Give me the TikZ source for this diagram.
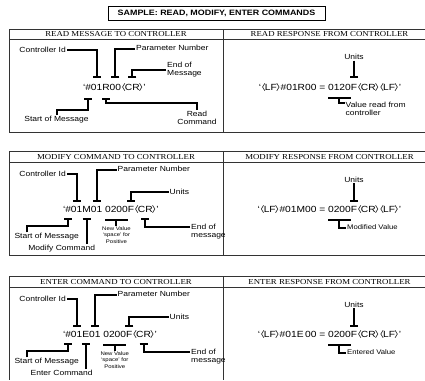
\documentclass[tikz,border=0pt]{standalone}
\usepackage{fontspec}
\setmainfont[FakeStretch=1.15]{Liberation Serif}
\setsansfont[FakeStretch=1.15]{Liberation Sans}
\usepackage{graphicx}
\usepackage{tikz}
\usetikzlibrary{arrows.meta,positioning}
\newcommand{\ltag}{\kern-0.3pt\raisebox{1.1pt}{\scalebox{1.25}[0.88]{\boldmath$\langle$}}\kern-1.1pt}
\newcommand{\rtag}{\kern-1.1pt\raisebox{1.1pt}{\scalebox{1.25}[0.88]{\boldmath$\rangle$}}\kern-0.3pt}

\begin{document}
\begin{tikzpicture}[x=1pt, y=-1pt,
    tbl/.style={draw=black!80, line width=0.9pt},
    head/.style={inner sep=0pt, font=\fontsize{7.65}{9}\selectfont},
    lbl/.style={inner sep=1pt, align=left, font=\sffamily\fontsize{7.4}{8.3}\selectfont},
    lbls/.style={lbl, font=\sffamily\fontsize{6.7}{7.4}\selectfont},
    tinylbl/.style={inner sep=0.5pt, align=center, font=\sffamily\fontsize{5.2}{6.6}\selectfont},
    chr/.style={inner sep=0pt, outer sep=0pt, text height=6.4pt, text depth=0pt, font=\sffamily\fontsize{8.9}{10}\selectfont},
    brk/.style={line width=2pt},
    tee/.style={brk, -{Bar[width=8pt]}}]
    \useasboundingbox (0,0) rectangle (425,380);

    \node [draw, line width=1pt, minimum width=217pt, minimum height=13.5pt, inner sep=0pt, font=\sffamily\bfseries\fontsize{7.75}{9}\selectfont] (title) at (216.5,13.5) {SAMPLE: READ, MODIFY, ENTER COMMANDS};

    \draw [tbl] (425,29) -- (9,29) -- (9,132.5) -- (425,132.5);
    \draw [tbl] (9,39.5) -- (425,39.5);
    \draw [tbl] (223,29) -- (223,132.5);
    \draw [tbl] (425,151.5) -- (9,151.5) -- (9,255) -- (425,255);
    \draw [tbl] (9,162) -- (425,162);
    \draw [tbl] (223,151.5) -- (223,255);
    \draw [tbl] (425,276.5) -- (9,276.5) -- (9,380);
    \draw [tbl] (9,287) -- (425,287);
    \draw [tbl] (223,276.5) -- (223,380);

    \node [head] (hreadL) at (116,34.5) {READ MESSAGE TO CONTROLLER};
    \node [head] (hreadR) at (329.5,34.5) {READ RESPONSE FROM CONTROLLER};
    \node [head] (hmodL) at (116,157) {MODIFY COMMAND TO CONTROLLER};
    \node [head] (hmodR) at (329.5,157) {MODIFY RESPONSE FROM CONTROLLER};
    \node [head] (hentL) at (116,282) {ENTER COMMAND TO CONTROLLER};
    \node [head] (hentR) at (329.5,282) {ENTER RESPONSE FROM CONTROLLER};

    % read message
    \node [chr, anchor=base west] (rq1) at (83,90.9) {`};
    \node [chr, base right=0pt of rq1] (rhash) {\#};
    \node [chr, base right=0pt of rhash] (rcid) {01};
    \node [chr, base right=0pt of rcid] (rcmd) {R};
    \node [chr, base right=0pt of rcmd] (rpar) {00};
    \node [chr, base right=0pt of rpar] (rcr) {\ltag CR\rtag};
    \node [chr, base right=0pt of rcr] (rq2) {'};

    \node [lbl, anchor=east] (lctrlR) at (67,49.5) {Controller Id};
    \node [lbl, anchor=west] (lparR) at (135,47.5) {Parameter Number};
    \node [lbl, anchor=west] (lendR) at (166,69.5) {End of\\Message};
    \node [lbl, anchor=north] (lstartR) at (56.5,115) {Start of Message};
    \node [lbl, anchor=north, align=center] (lreadR) at (197,109.5) {Read\\Command};

    \draw [tee] (lctrlR.east) -| ([yshift=7pt]rcid.north);
    \draw [tee] ([yshift=-1.5pt]lparR.west) -| ([yshift=7pt]rpar.north);
    \draw [tee] (lendR.west) -| ([yshift=7pt]rcr.north);
    \draw [tee] (lstartR.north) -- ++(0,-5) -| ([yshift=-7pt]rhash.south);
    \draw [tee] (lreadR.north) -- ++(0,-7) -| ([yshift=-7pt]rcmd.south);

    % read response
    \node [chr, anchor=base] (rrunit) at (354,90.9) {F};
    \node [chr, base left=0pt of rrunit] (rrval) {0120};
    \node [chr, base left=2.8pt of rrval] (rrpre) {`\ltag LF\rtag\#01R00\ =};
    \node [chr, base right=0pt of rrunit] (rrpost) {\ltag CR\rtag\ltag LF\rtag'};

    \node [lbl, above=24pt of rrunit] (lunitRR) {Units};
    \node [lbl, anchor=north west] (lvalRR) at (344.5,100.5) {Value read from\\controller};

    \draw [tee] (lunitRR.south) -- ([yshift=7pt]rrunit.north);
    \draw [brk] ([yshift=-7pt]rrval.south west) -- ([yshift=-7pt]rrval.south east);
    \draw [brk] ([yshift=-7pt]rrval.south) |- ([yshift=-2.5pt]lvalRR.north west);

    % modify command
    \node [chr, anchor=base west] (mq1) at (63,212.7) {`};
    \node [chr, base right=0pt of mq1] (mhash) {\#};
    \node [chr, base right=0pt of mhash] (mcid) {01};
    \node [chr, base right=0pt of mcid] (mcmd) {M};
    \node [chr, base right=0pt of mcmd] (mpar) {01};
    \node [chr, base right=2.8pt of mpar] (mval) {0200};
    \node [chr, base right=0pt of mval] (munit) {F};
    \node [chr, base right=0pt of munit] (mcr) {\ltag CR\rtag};
    \node [chr, base right=0pt of mcr] (mq2) {'};

    \node [lbl, anchor=east] (lctrlM) at (67,173.5) {Controller Id};
    \node [lbl, anchor=west] (lparM) at (116.5,168.5) {Parameter Number};
    \node [lbl, anchor=west] (lunitM) at (168.5,191.7) {Units};
    \node [lbl] (lstartM) at (46.7,237) {Start of Message};
    \node [lbl, anchor=north] (lmodM) at (61.7,244) {Modify Command};
    \node [tinylbl, below=13pt of mval] (lnewM) {New Value\\`space' for\\Positive};
    \node [lbl, anchor=north west] (lendM) at (190,222.5) {End of\\message};

    \draw [tee] (lctrlM.east) -| ([yshift=4.6pt]mcid.north);
    \draw [tee] ([yshift=-1pt]lparM.west) -| ([yshift=4.6pt]mpar.north);
    \draw [tee] (lunitM.west) -| ([yshift=4.6pt]munit.north);
    \draw [tee] ([xshift=-19.4pt]lstartM.north) -- ++(0,-6) -| ([yshift=-4.8pt]mhash.south);
    \draw [tee] (lmodM.north -| mcmd.south) -- ([yshift=-4.8pt]mcmd.south);
    \draw [brk] ([yshift=-7.3pt]mval.south west) -- ([yshift=-7.3pt]mval.south east);
    \draw [brk] ([yshift=-7.3pt]mval.south) -- (lnewM.north);
    \draw [tee] ([yshift=-4.5pt]lendM.north west) -| ([yshift=-4.8pt]mcr.south);

    % modify response
    \node [chr, anchor=base] (mrunit) at (354,212.7) {F};
    \node [chr, base left=0pt of mrunit] (mrval) {0200};
    \node [chr, base left=2.8pt of mrval] (mrpre) {`\ltag LF\rtag\#01M00\ =};
    \node [chr, base right=0pt of mrunit] (mrpost) {\ltag CR\rtag\ltag LF\rtag'};

    \node [lbl, above=23pt of mrunit] (lunitMR) {Units};
    \node [lbls, anchor=west] (lmodvMR) at (346,227.5) {Modified Value};

    \draw [tee] (lunitMR.south) -- ([yshift=4.6pt]mrunit.north);
    \draw [brk] ([yshift=-7.3pt]mrval.south west) -- ([yshift=-7.3pt]mrval.south east);
    \draw [brk] ([yshift=-7.3pt]mrval.south) |- (lmodvMR.west);

    % enter command
    \node [chr, anchor=base west] (eq1) at (63,337.7) {`};
    \node [chr, base right=0pt of eq1] (ehash) {\#};
    \node [chr, base right=0pt of ehash] (ecid) {01};
    \node [chr, base right=0pt of ecid] (ecmd) {E};
    \node [chr, base right=0pt of ecmd] (epar) {01};
    \node [chr, base right=2.8pt of epar] (eval) {0200};
    \node [chr, base right=0pt of eval] (eunit) {F};
    \node [chr, base right=0pt of eunit] (ecr) {\ltag CR\rtag};
    \node [chr, base right=0pt of ecr] (eq2) {'};

    \node [lbl, anchor=east] (lctrlE) at (67,298.5) {Controller Id};
    \node [lbl, anchor=west] (lparE) at (116.5,293.5) {Parameter Number};
    \node [lbl, anchor=west] (lunitE) at (168.5,316.7) {Units};
    \node [lbl] (lstartE) at (46.7,362) {Start of Message};
    \node [lbl, anchor=north] (lentE) at (61.7,369) {Enter Command};
    \node [tinylbl, below=13pt of eval] (lnewE) {New Value\\`space' for\\Positive};
    \node [lbl, anchor=north west] (lendE) at (190,347.5) {End of\\message};

    \draw [tee] (lctrlE.east) -| ([yshift=4.6pt]ecid.north);
    \draw [tee] ([yshift=-1pt]lparE.west) -| ([yshift=4.6pt]epar.north);
    \draw [tee] (lunitE.west) -| ([yshift=4.6pt]eunit.north);
    \draw [tee] ([xshift=-19.4pt]lstartE.north) -- ++(0,-6) -| ([yshift=-4.8pt]ehash.south);
    \draw [tee] (lentE.north -| ecmd.south) -- ([yshift=-4.8pt]ecmd.south);
    \draw [brk] ([yshift=-7.3pt]eval.south west) -- ([yshift=-7.3pt]eval.south east);
    \draw [brk] ([yshift=-7.3pt]eval.south) -- (lnewE.north);
    \draw [tee] ([yshift=-4.5pt]lendE.north west) -| ([yshift=-4.8pt]ecr.south);

    % enter response
    \node [chr, anchor=base] (erunit) at (354,337.7) {F};
    \node [chr, base left=0pt of erunit] (erval) {0200};
    \node [chr, base left=2.8pt of erval] (erpre) {`\ltag LF\rtag\#01E\,00\ =};
    \node [chr, base right=0pt of erunit] (erpost) {\ltag CR\rtag\ltag LF\rtag'};

    \node [lbl, above=23pt of erunit] (lunitER) {Units};
    \node [lbls, anchor=west] (lentvER) at (346,352.5) {Entered Value};

    \draw [tee] (lunitER.south) -- ([yshift=4.6pt]erunit.north);
    \draw [brk] ([yshift=-7.3pt]erval.south west) -- ([yshift=-7.3pt]erval.south east);
    \draw [brk] ([yshift=-7.3pt]erval.south) |- (lentvER.west);
\end{tikzpicture}
\end{document}
